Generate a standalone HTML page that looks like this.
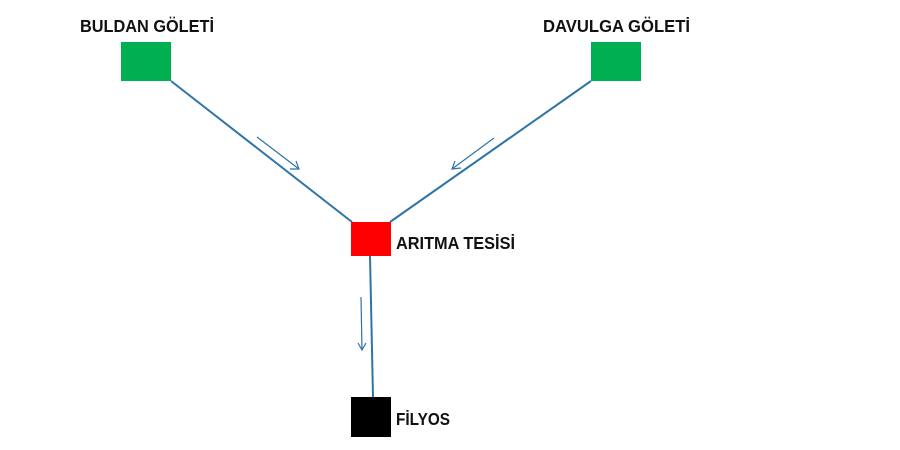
<!DOCTYPE html>
<html><head><meta charset="utf-8"><style>html,body{margin:0;padding:0;background:#fff;width:900px;height:450px;overflow:hidden}</style></head>
<body>
<svg width="900" height="450" xmlns="http://www.w3.org/2000/svg" font-family="Liberation Sans, sans-serif" font-weight="bold" font-size="17.5">
<g stroke="#2e75a6" stroke-width="2" fill="none">
<line x1="171" y1="81" x2="352" y2="222"/>
<line x1="591" y1="81" x2="390" y2="222"/>
<line x1="370" y1="256" x2="373" y2="397"/>
</g>
<g stroke="#2e75a6" stroke-width="1.2" fill="none">
<line x1="257" y1="137" x2="299" y2="169"/><polyline points="290,169 299,169 296,161"/>
<line x1="494" y1="138" x2="452" y2="169"/><polyline points="455,161 452,169 461,168"/>
<line x1="361" y1="297" x2="362" y2="350"/><polyline points="358,343 362,350 366,343"/>
</g>
<rect x="121" y="42" width="50" height="39" fill="#00b050"/>
<rect x="591" y="42" width="50" height="39" fill="#00b050"/>
<rect x="351" y="222" width="40" height="34" fill="#ff0000"/>
<rect x="351" y="397" width="40" height="40" fill="#000"/>
<g fill="#111">
<text x="80" y="32" textLength="134" lengthAdjust="spacingAndGlyphs">BULDAN GÖLETİ</text>
<text x="543" y="32" textLength="147" lengthAdjust="spacingAndGlyphs">DAVULGA GÖLETİ</text>
<text x="396" y="249" textLength="119" lengthAdjust="spacingAndGlyphs">ARITMA TESİSİ</text>
<text x="396" y="425" textLength="54" lengthAdjust="spacingAndGlyphs">FİLYOS</text>
</g>
</svg>
</body></html>
